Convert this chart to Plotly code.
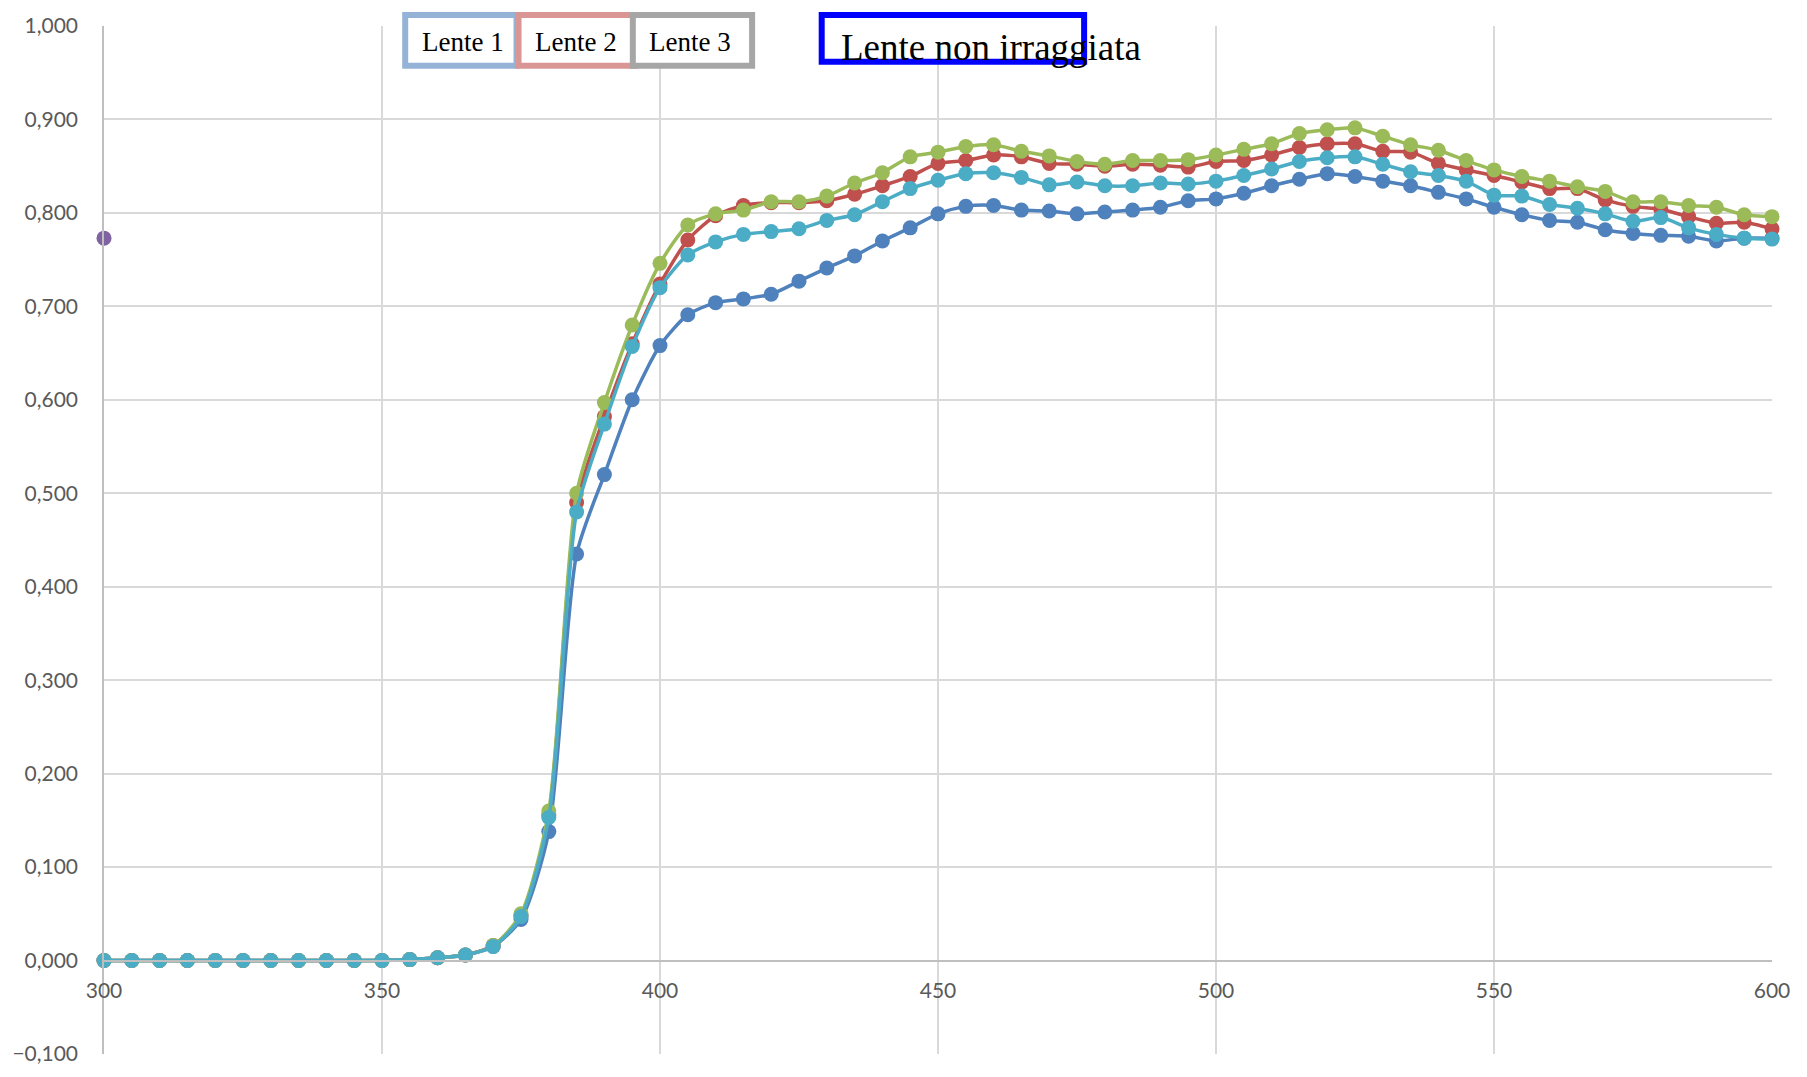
import plotly.graph_objects as go

wavelength = list(range(300, 605, 5))

lente_1 = [0.000]*11 + [0.001, 0.003, 0.006, 0.015, 0.044, 0.138, 0.435, 0.520, 0.600,
    0.658, 0.691, 0.704, 0.708, 0.713, 0.727, 0.741, 0.754, 0.770, 0.784,
    0.799, 0.807, 0.808, 0.803, 0.802, 0.799, 0.801, 0.803, 0.806, 0.813,
    0.815, 0.821, 0.829, 0.836, 0.842, 0.839, 0.834, 0.829, 0.822, 0.815,
    0.806, 0.798, 0.792, 0.790, 0.782, 0.778, 0.776, 0.775, 0.770, 0.773,
    0.773]
lente_2 = [0.000]*11 + [0.001, 0.003, 0.006, 0.016, 0.048, 0.156, 0.490, 0.582, 0.660,
    0.724, 0.771, 0.797, 0.808, 0.811, 0.811, 0.813, 0.820, 0.829, 0.839,
    0.853, 0.856, 0.862, 0.860, 0.853, 0.852, 0.850, 0.852, 0.851, 0.849,
    0.855, 0.856, 0.862, 0.870, 0.874, 0.874, 0.866, 0.865, 0.853, 0.846,
    0.840, 0.833, 0.826, 0.826, 0.814, 0.807, 0.804, 0.796, 0.789, 0.790,
    0.783]
lente_3 = [0.000]*11 + [0.001, 0.003, 0.006, 0.016, 0.050, 0.160, 0.500, 0.597, 0.680,
    0.746, 0.787, 0.799, 0.803, 0.812, 0.812, 0.818, 0.832, 0.843, 0.860,
    0.865, 0.871, 0.873, 0.866, 0.861, 0.855, 0.852, 0.856, 0.856, 0.857,
    0.862, 0.868, 0.874, 0.885, 0.889, 0.891, 0.882, 0.873, 0.867, 0.856,
    0.846, 0.839, 0.834, 0.828, 0.823, 0.812, 0.812, 0.808, 0.806, 0.798,
    0.796]
lente_4 = [0.000]*11 + [0.001, 0.003, 0.006, 0.015, 0.047, 0.153, 0.480, 0.574, 0.657,
    0.720, 0.755, 0.769, 0.777, 0.780, 0.783, 0.792, 0.798, 0.812, 0.826,
    0.835, 0.842, 0.843, 0.838, 0.830, 0.833, 0.829, 0.829, 0.832, 0.831,
    0.834, 0.840, 0.847, 0.855, 0.859, 0.860, 0.852, 0.844, 0.840, 0.834,
    0.819, 0.818, 0.809, 0.805, 0.799, 0.791, 0.795, 0.784, 0.777, 0.773,
    0.772]
non_irr_x = [300]
non_irr_y = [0.773]

y_ticks = [round(-0.1 + 0.1*i, 1) for i in range(12)]
x_ticks = [300, 350, 400, 450, 500, 550, 600]

fig = go.Figure()
series = [
    (lente_1, "#4F81BD"),
    (lente_2, "#C0504D"),
    (lente_3, "#9BBB59"),
]
for ys, col in series:
    fig.add_trace(go.Scatter(x=wavelength, y=ys, mode="lines+markers",
        line=dict(color=col, width=3.5, shape="spline", smoothing=0.7),
        marker=dict(color=col, size=15), showlegend=False, cliponaxis=False))
fig.add_trace(go.Scatter(x=non_irr_x, y=non_irr_y, mode="markers",
    marker=dict(color="#8064A2", size=15), showlegend=False, cliponaxis=False))
fig.add_trace(go.Scatter(x=wavelength, y=lente_4, mode="lines+markers",
    line=dict(color="#4BACC6", width=3.5, shape="spline", smoothing=0.7),
    marker=dict(color="#4BACC6", size=15), showlegend=False, cliponaxis=False))

W, H = 1807, 1077
L, R, T, B = 94, 35, 23, 18
pw, ph = W - L - R, H - T - B

def px(x):
    return (x - L) / pw

def py(y):
    return (H - B - y) / ph

boxes = [
    (397, 12, 509, 63, "#95B3D7"),
    (511, 12, 628, 63, "#D99694"),
    (626, 12, 746, 63, "#A6A6A6"),
    (816, 12, 1080, 59, "#0000FF"),
]
for x0, y0, x1, y1, col in boxes:
    fig.add_shape(type="rect", xref="paper", yref="paper",
        x0=px(x0), x1=px(x1), y0=py(y1), y1=py(y0),
        line=dict(color=col, width=6), fillcolor="white", layer="above")

labels = [("Lente 1", 455, 39, "center", 27),
          ("Lente 2", 569, 39, "center", 27),
          ("Lente 3", 684, 39, "center", 27),
          ("Lente non irraggiata", 833, 45, "left", 37)]
for txt, x, y, anc, fs in labels:
    fig.add_annotation(text=txt, xref="paper", yref="paper", x=px(x), y=py(y),
        xanchor=anc, yanchor="middle", showarrow=False,
        font=dict(family="Liberation Serif", size=fs, color="black"))

fig.update_layout(
    width=W, height=H, margin=dict(l=L, r=R, t=T, b=B),
    paper_bgcolor="white", plot_bgcolor="white",
    separators=",.",
    font=dict(family="Lato", size=21, color="#595959"),
    xaxis=dict(range=[300, 600], tickvals=x_ticks, showgrid=True,
        gridcolor="#D9D9D9", gridwidth=1.5, zeroline=False,
        showline=True, linecolor="#BFBFBF", linewidth=1.5,
        anchor="free", position=0.1/1.1,
        ticks="outside", ticklen=12, tickcolor="rgba(0,0,0,0)"),
    yaxis=dict(range=[-0.1, 1.0], tickvals=y_ticks, tickformat=".3f",
        showgrid=True, gridcolor="#D9D9D9", gridwidth=1.5, zeroline=False,
        showline=True, linecolor="#BFBFBF", linewidth=1.5,
        ticks="outside", ticklen=20, tickcolor="rgba(0,0,0,0)"),
)

fig.write_html("out.html", config={"displayModeBar": False},
    post_script="document.body.style.margin='0';document.body.style.padding='0';")
